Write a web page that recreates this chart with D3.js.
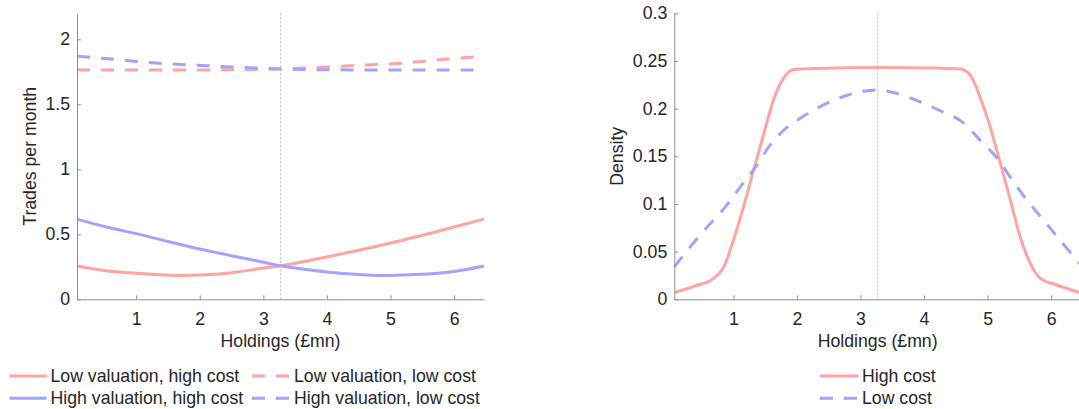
<!DOCTYPE html>
<html><head><meta charset="utf-8">
<script src="https://cdn.jsdelivr.net/npm/d3@7"></script>
<style>
body{margin:0;background:#fff;}
svg{display:block;font-family:"Liberation Sans",Arial,sans-serif;}
</style></head>
<body><svg id="c" width="1079" height="409"></svg>
<script>
// ---------- data ----------
const xDomain = [0.07, 6.47];
const meanHolding = 3.27;
const xTicks = [1, 2, 3, 4, 5, 6];

// Left panel: trades per month
const leftYTicks = [0, 0.5, 1, 1.5, 2];
const leftYLabels = ["0", "0.5", "1", "1.5", "2"];
const lowValHighCostX = [0.07, 0.5, 1, 1.5, 1.75, 2, 2.5, 3, 3.27, 3.5, 4, 4.5, 5, 5.5, 6, 6.47];
const lowValHighCostY = [0.256, 0.222, 0.200, 0.186, 0.183, 0.186, 0.205, 0.240, 0.258, 0.278, 0.326, 0.378, 0.433, 0.493, 0.556, 0.617];
const highValHighCostX = [0.07, 0.5, 1, 1.5, 2, 2.5, 3, 3.27, 3.5, 4, 4.5, 4.8, 5, 5.5, 6, 6.47];
const highValHighCostY = [0.617, 0.56, 0.505, 0.445, 0.387, 0.335, 0.285, 0.258, 0.240, 0.210, 0.190, 0.183, 0.184, 0.192, 0.214, 0.256];
const lowValLowCostX = [0.07, 0.5, 1, 1.5, 2, 2.5, 3.0, 3.27, 3.6, 4, 4.4, 4.8, 5.2, 5.5, 5.9, 6.47];
const lowValLowCostY = [1.765, 1.764, 1.763, 1.763, 1.764, 1.766, 1.769, 1.772, 1.779, 1.787, 1.797, 1.806, 1.816, 1.830, 1.848, 1.870];
const highValLowCostX = [0.07, 0.6, 1.0, 1.35, 1.7, 2.1, 2.5, 2.9, 3.27, 3.6, 4, 4.5, 5, 5.5, 6, 6.47];
const highValLowCostY = [1.870, 1.848, 1.830, 1.816, 1.806, 1.797, 1.787, 1.779, 1.772, 1.768, 1.766, 1.764, 1.763, 1.763, 1.764, 1.765];

// Right panel: density
const rightYTicks = [0, 0.05, 0.1, 0.15, 0.2, 0.25, 0.3];
const rightYLabels = ["0", "0.05", "0.1", "0.15", "0.2", "0.25", "0.3"];
const highCostX = [0.07, 0.4, 0.69, 0.85, 1.0, 1.16, 1.32, 1.48, 1.63, 1.79, 1.95, 2.3, 3.27, 4.2, 4.57, 4.73, 4.88, 5.04, 5.2, 5.36, 5.51, 5.67, 5.83, 6.09, 6.47];
const highCostY = [0.007, 0.014, 0.022, 0.034, 0.062, 0.097, 0.136, 0.174, 0.209, 0.232, 0.241, 0.2422, 0.2432, 0.2425, 0.2416, 0.235, 0.2125, 0.181, 0.143, 0.104, 0.066, 0.038, 0.022, 0.015, 0.0068];
const lowCostX = [0.07, 0.32, 0.59, 0.85, 1.11, 1.35, 1.58, 1.82, 2.1, 2.42, 2.79, 3.27, 3.57, 3.94, 4.28, 4.62, 4.88, 5.15, 5.41, 5.62, 5.88, 6.14, 6.47];
const lowCostY = [0.034, 0.055, 0.076, 0.095, 0.118, 0.139, 0.162, 0.179, 0.192, 0.204, 0.214, 0.2195, 0.216, 0.207, 0.197, 0.185, 0.167, 0.148, 0.123, 0.104, 0.083, 0.062, 0.036];

const leftLegend = [
  {label: "Low valuation, high cost", color: "red", dash: false},
  {label: "High valuation, high cost", color: "blue", dash: false},
  {label: "Low valuation, low cost", color: "red", dash: true},
  {label: "High valuation, low cost", color: "blue", dash: true}
];
const rightLegend = [
  {label: "High cost", color: "red", dash: false},
  {label: "Low cost", color: "blue", dash: true}
];

// ---------- styles ----------
const COLORS = {red: "#ffa3a3", blue: "#a3a3ff"};
const DASH = "13,11";
const LW = 3;
const FONT = 17.7;
const TEXT = "#262626";
const AXIS = "#8f8f8f";

const svg = d3.select("#c");
const zip = (xs, ys) => xs.map((x, i) => [x, ys[i]]);

function panel(opt) {
  const g = svg.append("g");
  const x = d3.scaleLinear().domain(xDomain).range([opt.left, opt.right]);
  const y = d3.scaleLinear().domain(opt.yDomain).range([299.3, 13.3]);

  // dotted mean line
  g.append("line").attr("x1", x(meanHolding)).attr("x2", x(meanHolding))
    .attr("y1", y.range()[1]).attr("y2", y.range()[0])
    .attr("stroke", "#bdbdbd").attr("stroke-width", 1).attr("stroke-dasharray", "2,2");

  // series
  const line = d3.line().x(d => x(d[0])).y(d => y(d[1])).curve(d3.curveMonotoneX);
  opt.series.forEach(s => {
    g.append("path").attr("d", line(zip(s.x, s.y)))
      .attr("fill", "none").attr("stroke", COLORS[s.color]).attr("stroke-width", LW)
      .attr("stroke-dasharray", s.dash ? DASH : null).attr("stroke-linejoin", "round");
  });

  // axes
  const xa = g.append("g").attr("transform", `translate(0,${y.range()[0]})`)
    .call(d3.axisBottom(x).tickValues(xTicks).tickFormat(d3.format("d"))
      .tickSizeInner(-4).tickSizeOuter(0).tickPadding(13));
  const ya = g.append("g").attr("transform", `translate(${opt.left},0)`)
    .call(d3.axisLeft(y).tickValues(opt.yTicks).tickFormat((d, i) => opt.yLabels[i])
      .tickSizeInner(-4).tickSizeOuter(0).tickPadding(7));
  [xa, ya].forEach(a => {
    a.attr("font-family", null).attr("font-size", FONT);
    a.select(".domain").attr("stroke", AXIS);
    a.selectAll(".tick line").attr("stroke", AXIS);
    a.selectAll(".tick text").attr("fill", TEXT);
  });

  // axis labels
  g.append("text").attr("x", (opt.left + opt.right) / 2).attr("y", 347)
    .attr("text-anchor", "middle").attr("font-size", FONT).attr("fill", TEXT)
    .text("Holdings (£mn)");
  g.append("text").attr("transform", `translate(${opt.yLabelX},${(y.range()[0] + y.range()[1]) / 2}) rotate(-90)`)
    .attr("text-anchor", "middle").attr("font-size", FONT).attr("fill", TEXT)
    .text(opt.yLabel);
}

panel({
  left: 77, right: 484, yDomain: [0, 2.2], yTicks: leftYTicks, yLabels: leftYLabels,
  yLabel: "Trades per month", yLabelX: 35.5,
  series: [
    {x: lowValHighCostX, y: lowValHighCostY, color: "red", dash: false},
    {x: highValHighCostX, y: highValHighCostY, color: "blue", dash: false},
    {x: lowValLowCostX, y: lowValLowCostY, color: "red", dash: true},
    {x: highValLowCostX, y: highValLowCostY, color: "blue", dash: true}
  ]
});
panel({
  left: 674.3, right: 1081, yDomain: [0, 0.3], yTicks: rightYTicks, yLabels: rightYLabels,
  yLabel: "Density", yLabelX: 623,
  series: [
    {x: highCostX, y: highCostY, color: "red", dash: false},
    {x: lowCostX, y: lowCostY, color: "blue", dash: true}
  ]
});

// legends
function legend(items, positions) {
  items.forEach((it, i) => {
    const p = positions[i];
    svg.append("line").attr("x1", p.x).attr("x2", p.x + p.w).attr("y1", p.y).attr("y2", p.y)
      .attr("stroke", COLORS[it.color]).attr("stroke-width", LW)
      .attr("stroke-dasharray", it.dash ? DASH : null);
    svg.append("text").attr("x", p.x + p.w + 4).attr("y", p.y + 6)
      .attr("font-size", FONT).attr("fill", TEXT).text(it.label);
  });
}
legend(leftLegend, [
  {x: 9.5, y: 376, w: 37}, {x: 9.5, y: 398.3, w: 37},
  {x: 252, y: 376, w: 38}, {x: 252, y: 398.3, w: 38}
]);
legend(rightLegend, [
  {x: 820, y: 376, w: 38}, {x: 820, y: 398.3, w: 38}
]);
</script>
</body></html>
